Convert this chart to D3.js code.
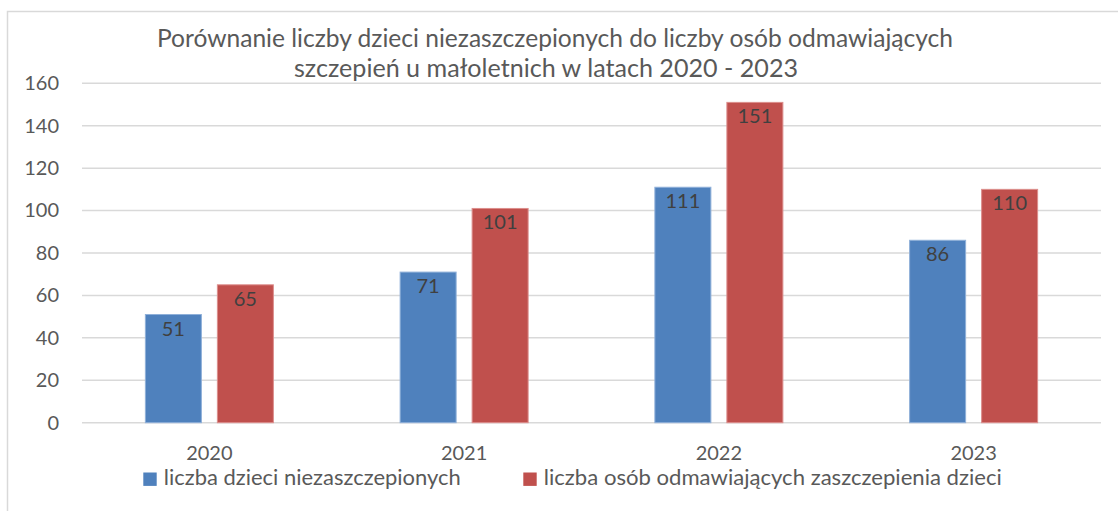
<!DOCTYPE html>
<html>
<head>
<meta charset="utf-8">
<script src="https://cdn.jsdelivr.net/npm/d3@7"></script>
<style>
  body { margin: 0; background: #fff; }
  svg { display: block; font-family: Lato, "Open Sans", sans-serif; }
</style>
</head>
<body>
<div id="chart"></div>
<script>
/* DATA */
const years = ["2020", "2021", "2022", "2023"];
const seriesNames = ["liczba dzieci niezaszczepionych", "liczba osób odmawiających zaszczepienia dzieci"];
const unvaccinated = [51, 71, 111, 86];
const refusing = [65, 101, 151, 110];
const yTicks = [0, 20, 40, 60, 80, 100, 120, 140, 160];
const titleLines = [
  "Porównanie liczby dzieci niezaszczepionych do liczby osób odmawiających",
  "szczepień u małoletnich w latach 2020 - 2023"
];

/* CONSTANTS */
const width = 1118, height = 511;
const colors = ["#4f81bd", "#c0504d"];
const edges = ["#8fb0d9", "#dc8e8c"];
const textColor = "#595959";

const svg = d3.select("#chart").append("svg")
  .attr("width", width)
  .attr("height", height);

// chart frame (runs off the right and bottom edge like the screenshot)
svg.append("rect")
  .attr("x", 7.5).attr("y", 11.5)
  .attr("width", width + 20).attr("height", height + 20)
  .attr("fill", "#fff")
  .attr("stroke", "#d9d9d9")
  .attr("stroke-width", 1.5);

// scales
const yScale = d3.scaleLinear().domain([0, 160]).range([422.7, 83.3]);
const x0 = d3.scaleBand().domain(years).range([82, 1101]);
const groupW = 129;
const x1 = d3.scaleBand().domain(d3.range(2)).range([0, groupW]).paddingInner(15 / 72);

// gridlines
svg.append("g")
  .selectAll("line")
  .data(yTicks)
  .join("line")
  .attr("x1", x0.range()[0]).attr("x2", x0.range()[1])
  .attr("y1", d => yScale(d))
  .attr("y2", d => yScale(d))
  .attr("stroke", "#d9d9d9")
  .attr("stroke-width", 1.5);

// y axis labels
const yAxis = d3.axisLeft(yScale).tickValues(yTicks).tickSize(0).tickPadding(0);
const yAxisGroup = svg.append("g")
  .attr("transform", "translate(59,0)")
  .call(yAxis);
yAxisGroup.select(".domain").remove();
yAxisGroup.selectAll("text")
  .attr("fill", textColor)
  .attr("font-size", 20)
  .attr("font-family", "Lato, sans-serif");

// x axis labels
const xAxis = d3.axisBottom(x0).tickSize(0).tickPadding(0);
const xAxisGroup = svg.append("g")
  .attr("transform", "translate(0,459.5)")
  .call(xAxis);
xAxisGroup.select(".domain").remove();
xAxisGroup.selectAll("text")
  .attr("y", 0)
  .attr("dy", 0)
  .attr("fill", textColor)
  .attr("font-size", 20)
  .attr("font-family", "Lato, sans-serif");

// bars
const rows = years.map((y, i) => ({ year: y, values: [unvaccinated[i], refusing[i]] }));

const groups = svg.append("g")
  .selectAll("g")
  .data(rows)
  .join("g")
  .attr("transform", d => `translate(${x0(d.year) + (x0.bandwidth() - groupW) / 2},0)`);

groups.selectAll("rect")
  .data(d => d.values.map((v, i) => ({ v, i })))
  .join("rect")
  .attr("x", d => x1(d.i) + 0.5)
  .attr("y", d => yScale(d.v))
  .attr("width", x1.bandwidth() - 1)
  .attr("height", d => yScale(0) - yScale(d.v))
  .attr("fill", d => colors[d.i])
  .attr("stroke", d => edges[d.i])
  .attr("stroke-width", 1);

groups.selectAll("text")
  .data(d => d.values.map((v, i) => ({ v, i })))
  .join("text")
  .attr("x", d => x1(d.i) + x1.bandwidth() / 2)
  .attr("y", d => yScale(d.v) + 21)
  .attr("text-anchor", "middle")
  .attr("font-size", 20)
  .attr("fill", "#404040")
  .text(d => d.v);

// title
const titleCenters = [555, 546];
const titleWidths = [796, 504];
svg.append("g")
  .selectAll("text")
  .data(titleLines)
  .join("text")
  .attr("x", (d, i) => titleCenters[i])
  .attr("y", (d, i) => 47 + i * 30)
  .attr("text-anchor", "middle")
  .attr("font-size", 25)
  .attr("fill", textColor)
  .attr("textLength", (d, i) => titleWidths[i])
  .attr("lengthAdjust", "spacingAndGlyphs")
  .text(d => d);

// legend
const legendX = [143.3, 523.3];
const legendWidths = [297, 458];
const legend = svg.append("g")
  .selectAll("g")
  .data(seriesNames)
  .join("g")
  .attr("transform", (d, i) => `translate(${legendX[i]},472.5)`);

legend.append("rect")
  .attr("width", 13.4).attr("height", 13.4)
  .attr("fill", (d, i) => colors[i]);

legend.append("text")
  .attr("x", 20.5)
  .attr("y", 12.5)
  .attr("font-size", 21.5)
  .attr("fill", textColor)
  .attr("textLength", (d, i) => legendWidths[i])
  .attr("lengthAdjust", "spacingAndGlyphs")
  .text(d => d);
</script>
</body>
</html>
